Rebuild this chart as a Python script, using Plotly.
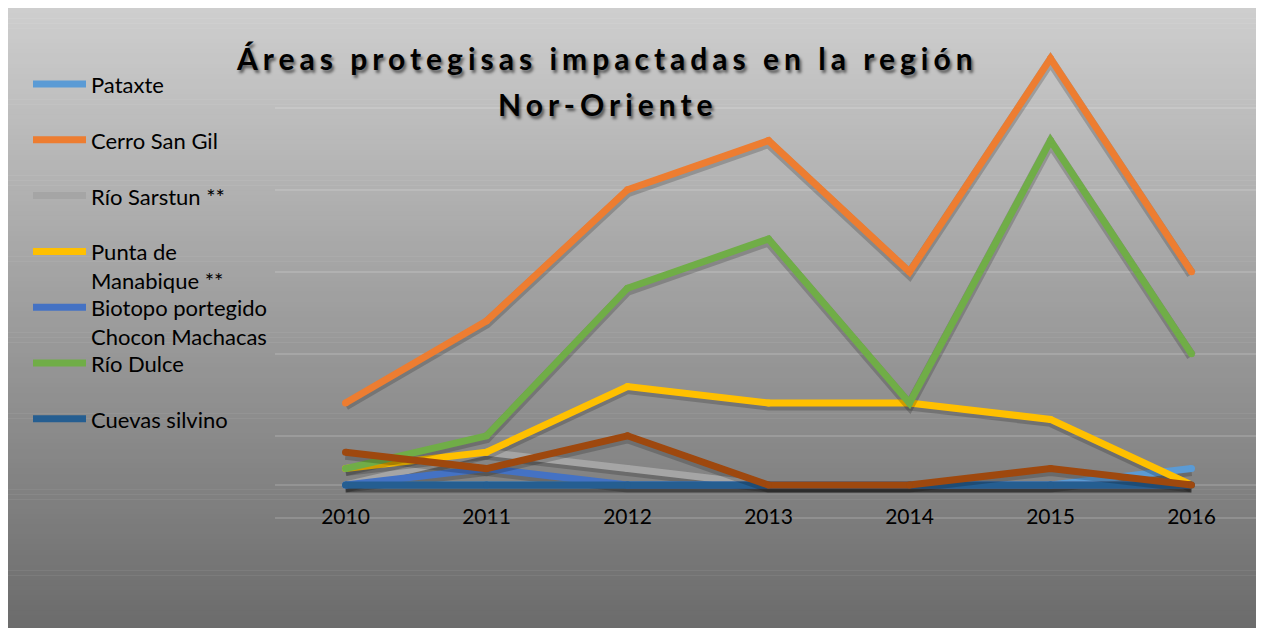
import plotly.graph_objects as go

# ---------------- data ----------------
years = [2010, 2011, 2012, 2013, 2014, 2015, 2016]

pataxte = [0, 0, 0, 0, 0, 0, 1]
cerro_san_gil = [5, 10, 18, 21, 13, 26, 13]
rio_sarstun = [0, 2, 1, 0, 0, 0, 0]
punta_manabique = [1, 2, 6, 5, 5, 4, 0]
biotopo_chocon = [0, 1, 0, 0, 0, 0, 0]
rio_dulce = [1, 3, 12, 15, 5, 21, 8]
cuevas_silvino = [0, 0, 0, 0, 0, 0, 0]
serie_8 = [2, 1, 3, 0, 0, 1, 0]

series_names = [
    "Pataxte",
    "Cerro San Gil",
    "Río Sarstun **",
    "Punta de<br>Manabique **",
    "Biotopo portegido<br>Chocon Machacas",
    "Río Dulce",
    "Cuevas silvino",
    None,
]
series_values = [pataxte, cerro_san_gil, rio_sarstun, punta_manabique,
                 biotopo_chocon, rio_dulce, cuevas_silvino, serie_8]
series_colors = ["#5B9BD5", "#ED7D31", "#A5A5A5", "#FFC000",
                 "#4472C4", "#70AD47", "#255E91", "#9E480E"]

title_line1 = "Áreas protegisas impactadas en la región"
title_line2 = "Nor-Oriente"

# ---------------- layout helpers ----------------
W, H = 1264, 628
OFF = 8  # page body margin
FONT = "Lato"


def px_x(p):
    return (p - OFF) / W


def px_y(p):
    return (H - (p - OFF)) / H


fig = go.Figure()

shadow_offset = 0.15
for name, vals, col in zip(series_names, series_values, series_colors):
    fig.add_trace(go.Scatter(
        x=years, y=[v - shadow_offset for v in vals], mode="lines",
        line=dict(color="rgba(0,0,0,0.19)", width=10),
        hoverinfo="skip", showlegend=False))
    fig.add_trace(go.Scatter(
        x=years, y=vals, mode="lines+markers", name=name or "",
        line=dict(color=col, width=7),
        marker=dict(color=col, size=7, line=dict(width=0)),
        showlegend=False))

shapes = []
# gradient background (chart area)
top_px, bot_px = 8, H + OFF
n_bands = 124
c_top, c_bot = 206, 106
for i in range(n_bands):
    y0 = top_px + (bot_px - top_px) * i / n_bands
    y1 = top_px + (bot_px - top_px) * (i + 1) / n_bands + 0.6
    t = (i + 0.5) / n_bands
    c = round(c_top + (c_bot - c_top) * t)
    shapes.append(dict(type="rect", xref="paper", yref="paper", layer="below",
                       x0=px_x(6), x1=px_x(1261), y0=px_y(y1), y1=px_y(y0),
                       line=dict(width=0), fillcolor=f"rgb({c},{c},{c})"))
shapes.append(dict(type="line", xref="paper", yref="paper", layer="below",
                   x0=px_x(1262), x1=px_x(1262), y0=px_y(H + OFF), y1=px_y(8),
                   line=dict(color="#dde8f4", width=2)))

# manual legend
annotations = []
leg_y0, leg_step = 84, 55.8
for i, (name, col) in enumerate(zip(series_names, series_colors)):
    if name is None:
        continue
    yc = leg_y0 + i * leg_step
    shapes.append(dict(type="line", xref="paper", yref="paper",
                       x0=px_x(33), x1=px_x(86), y0=px_y(yc), y1=px_y(yc),
                       line=dict(color=col, width=7)))
    annotations.append(dict(
        text=name, xref="paper", yref="paper", x=px_x(89), y=px_y(yc - 15),
        xanchor="left", yanchor="top", showarrow=False, align="left",
        font=dict(family=FONT, size=22, color="#000000")))

# title
title_font = dict(family=FONT, size=30, color="#000000", weight="bold",
                  shadow="2px 3px 3px rgba(0,0,0,0.55)")
annotations.append(dict(
    text=f'<span style="letter-spacing:5px">{title_line1}</span>',
    xref="paper", yref="paper", x=px_x(607), y=px_y(58),
    xanchor="center", yanchor="middle", showarrow=False, font=title_font))
annotations.append(dict(
    text=f'<span style="letter-spacing:5px">{title_line2}</span>',
    xref="paper", yref="paper", x=px_x(608), y=px_y(104),
    xanchor="center", yanchor="middle", showarrow=False, font=title_font))

fig.update_layout(
    width=W, height=H,
    margin=dict(l=0, r=0, t=0, b=0),
    paper_bgcolor="#ffffff",
    plot_bgcolor="rgba(0,0,0,0)",
    showlegend=False,
    shapes=shapes,
    annotations=annotations,
    xaxis=dict(
        domain=[px_x(275), px_x(1262)],
        range=[2009.5, 2016.5],
        tickmode="array", tickvals=years, ticktext=[str(y) for y in years],
        showgrid=False, zeroline=False, showline=False, ticks="",
        anchor="free", position=px_y(502),
        tickfont=dict(family=FONT, size=21, color="#000000"),
    ),
    yaxis=dict(
        domain=[px_y(526), px_y(34)],
        range=[-2.5, 27.5],
        tick0=-2, dtick=5,
        showticklabels=False, ticks="",
        showgrid=True, gridcolor="rgba(255,255,255,0.15)", gridwidth=2,
        zeroline=True, zerolinecolor="rgba(255,255,255,0.15)", zerolinewidth=2,
        showline=False,
    ),
)

fig.write_html("out.html")
